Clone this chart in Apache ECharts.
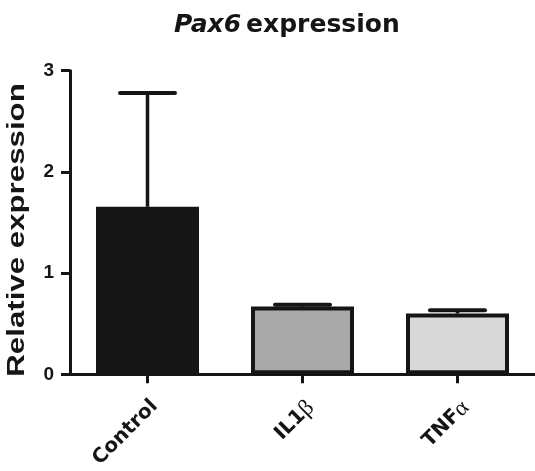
<!DOCTYPE html>
<html>
<head>
<meta charset="utf-8">
<script src="https://cdn.jsdelivr.net/npm/echarts@6/dist/echarts.min.js"></script>
<style>
  html, body { margin: 0; padding: 0; background: #ffffff; }
  #chart { width: 535px; height: 471px; }
</style>
</head>
<body>
<div id="chart"></div>
<script>
// ---- data ----
const categories = ['Control', 'IL1β', 'TNFα'];
const means = [1.655, 0.67, 0.60];
const errors = [1.125, 0.018, 0.032];
const barColors = ['#151515', '#a9a9a9', '#d8d8d8'];
const yMin = 0, yMax = 3, yInterval = 1;
const yAxisTitle = 'Relative expression';

const ink = '#151515';
const chart = echarts.init(document.getElementById('chart'));

const labelRich = {
  t: { fontFamily: 'DejaVu Sans', fontWeight: 'bold', fontSize: 20, color: ink },
  g: { fontFamily: 'Liberation Serif', fontWeight: 'normal', fontSize: 23, color: ink }
};

chart.setOption({
  animation: false,
  backgroundColor: '#ffffff',
  title: {
    text: '{i|Pax6} {b|expression}',
    left: 169,
    top: 8,
    textStyle: {
      rich: {
        i: { fontFamily: 'DejaVu Sans', fontWeight: 'bold', fontStyle: 'italic', fontSize: 25, color: ink },
        b: { fontFamily: 'DejaVu Sans', fontWeight: 'bold', fontSize: 25, color: ink }
      }
    }
  },
  graphic: [{
    type: 'text',
    x: 18,
    y: 230,
    rotation: Math.PI / 2,
    scaleX: 1.42,
    scaleY: 1.05,
    style: {
      text: yAxisTitle,
      fontFamily: 'Liberation Sans',
      fontWeight: 'bold',
      fontSize: 22,
      fill: ink,
      textAlign: 'center',
      textVerticalAlign: 'middle'
    }
  }],
  grid: { left: 70, right: -3, top: 70.7, bottom: 89.5, containLabel: false },
  xAxis: {
    type: 'category',
    data: categories,
    axisLine: { show: true, lineStyle: { color: ink, width: 3 } },
    axisTick: { show: true, alignWithLabel: true, length: 9, lineStyle: { color: ink, width: 3 } },
    axisLabel: {
      rotate: 45,
      margin: 22,
      align: 'right',
      verticalAlign: 'top',
      formatter: function (v) {
        const last = v.slice(-1);
        if (last === 'β' || last === 'α') {
          return '{t|' + v.slice(0, -1) + '}{g|' + last + '}';
        }
        return '{t|' + v + '}';
      },
      rich: labelRich
    },
    splitLine: { show: false }
  },
  yAxis: {
    type: 'value',
    min: yMin,
    max: yMax,
    interval: yInterval,
    axisLine: { show: true, lineStyle: { color: ink, width: 3 } },
    axisTick: { show: true, length: 9, lineStyle: { color: ink, width: 3 } },
    axisLabel: {
      margin: 16,
      fontFamily: 'Liberation Sans',
      fontWeight: 'bold',
      fontSize: 19,
      color: ink
    },
    splitLine: { show: false }
  },
  series: [
    {
      type: 'bar',
      barWidth: 103,
      data: means.map(function (v, i) {
        return { value: v, itemStyle: { color: barColors[i], borderColor: ink, borderWidth: 4 } };
      }),
      z: 2
    },
    {
      type: 'custom',
      z: 3,
      data: means.map(function (v, i) { return [i, v, v + errors[i]]; }),
      renderItem: function (params, api) {
        const i = api.value(0);
        const base = api.coord([i, api.value(1)]);
        const top = api.coord([i, api.value(2)]);
        const half = 27.5;
        return {
          type: 'group',
          children: [
            {
              type: 'line',
              shape: { x1: base[0], y1: base[1], x2: top[0], y2: top[1] },
              style: { stroke: ink, lineWidth: 3.5 }
            },
            {
              type: 'line',
              shape: { x1: top[0] - half, y1: top[1], x2: top[0] + half, y2: top[1] },
              style: { stroke: ink, lineWidth: 4, lineCap: 'round' }
            }
          ]
        };
      }
    }
  ]
});
</script>
</body>
</html>
